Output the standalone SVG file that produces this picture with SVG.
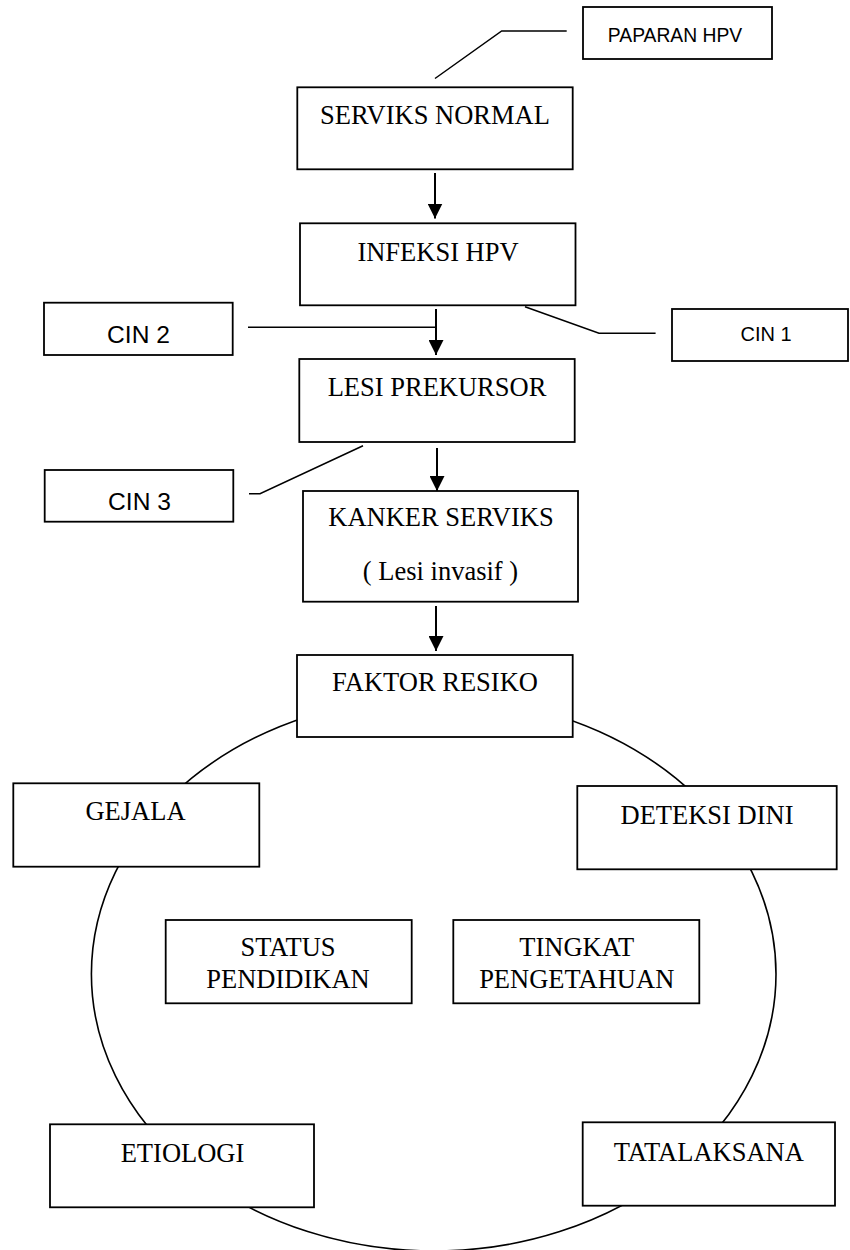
<svg xmlns="http://www.w3.org/2000/svg" width="850" height="1250" viewBox="0 0 850 1250">
<style>
.box{fill:#fff;stroke:#000;stroke-width:1.8}
.ser{font-family:"Liberation Serif","Times New Roman",serif;font-size:26.5px;fill:#000;text-anchor:middle}
.san{font-family:"Liberation Sans",Arial,sans-serif;fill:#000;text-anchor:middle}
.lead{fill:none;stroke:#000;stroke-width:1.5}
.arr{stroke:#000;stroke-width:2;marker-end:url(#ah)}
</style>
<defs>
<marker id="ah" markerUnits="userSpaceOnUse" viewBox="0 0 15 15" refX="15" refY="7.5" markerWidth="15" markerHeight="15" orient="auto">
<path d="M0,0 L15,7.5 L0,15 Z" fill="#000"/>
</marker>
</defs>
<ellipse id="cycle" cx="433.7" cy="974" rx="342.3" ry="277" fill="none" stroke="#000" stroke-width="1.6"/>
<g id="connectors">
<polyline class="lead" points="566.7,31 501.7,31 435,78.5"/>
<polyline class="lead" points="525,306.7 599,333.3 655.6,333.3"/>
<line class="lead" x1="248" y1="327.3" x2="436" y2="327.3"/>
<polyline class="lead" points="363,445.7 260,493.7 249,493.7"/>
<line class="arr" x1="435" y1="173" x2="435" y2="218.5"/>
<line class="arr" x1="436" y1="309" x2="436" y2="355"/>
<line class="arr" x1="437" y1="448" x2="437" y2="491"/>
<line class="arr" x1="436" y1="606" x2="436" y2="651"/>
</g>
<g id="paparan"><rect class="box" x="583" y="7" width="189" height="52"/><text class="san" x="675" y="41.7" font-size="19.3">PAPARAN HPV</text></g>
<g id="serviks-normal"><rect class="box" x="297.3" y="87.3" width="275.4" height="82"/><text class="ser" x="435" y="124">SERVIKS NORMAL</text></g>
<g id="infeksi"><rect class="box" x="300" y="223.3" width="275.5" height="82"/><text class="ser" x="438" y="261">INFEKSI HPV</text></g>
<g id="cin1"><rect class="box" x="672" y="309" width="176" height="52"/><text class="san" x="766" y="340.5" font-size="20">CIN 1</text></g>
<g id="cin2"><rect class="box" x="44" y="302.7" width="188.7" height="52.3"/><text class="san" x="138.5" y="342.7" font-size="24.6">CIN 2</text></g>
<g id="lesi"><rect class="box" x="299.3" y="359" width="275.4" height="83"/><text class="ser" x="437" y="396">LESI PREKURSOR</text></g>
<g id="cin3"><rect class="box" x="44.7" y="470" width="188.6" height="51.7"/><text class="san" x="139.5" y="510" font-size="24.6">CIN 3</text></g>
<g id="kanker"><rect class="box" x="303" y="491" width="275" height="110.7"/><text class="ser" x="441" y="525.7">KANKER SERVIKS</text><text class="ser" x="440.5" y="580">( Lesi invasif )</text></g>
<g id="faktor"><rect class="box" x="297" y="655" width="275.7" height="82"/><text class="ser" x="435" y="690.7">FAKTOR RESIKO</text></g>
<g id="gejala"><rect class="box" x="13.3" y="783.3" width="246" height="83.4"/><text class="ser" x="135.5" y="820">GEJALA</text></g>
<g id="deteksi"><rect class="box" x="577.3" y="786" width="259.4" height="83.3"/><text class="ser" x="707" y="824.3">DETEKSI DINI</text></g>
<g id="status"><rect class="box" x="165.7" y="920" width="246" height="83.3"/><text class="ser" x="288" y="955.7">STATUS</text><text class="ser" x="288" y="988.3">PENDIDIKAN</text></g>
<g id="tingkat"><rect class="box" x="453.3" y="920" width="246" height="83.3"/><text class="ser" x="576.7" y="955.7">TINGKAT</text><text class="ser" x="576.7" y="988.3">PENGETAHUAN</text></g>
<g id="etiologi"><rect class="box" x="50" y="1124.3" width="264" height="83"/><text class="ser" x="182.5" y="1161.7">ETIOLOGI</text></g>
<g id="tatalaksana"><rect class="box" x="582.7" y="1122.3" width="252.3" height="83.4"/><text class="ser" x="708.8" y="1160.7">TATALAKSANA</text></g>
</svg>
